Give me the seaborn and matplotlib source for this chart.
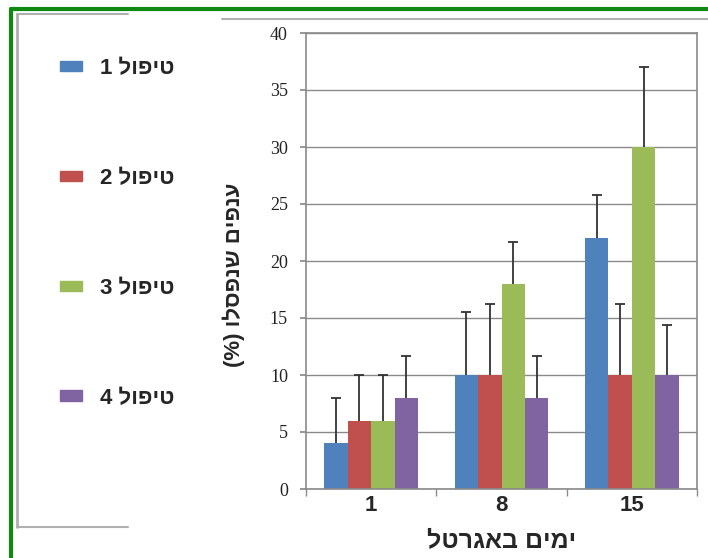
import matplotlib
matplotlib.use("Agg")
import matplotlib.pyplot as plt
import seaborn as sns
import pandas as pd
import numpy as np
from matplotlib.lines import Line2D
from matplotlib.patches import Rectangle

# ---- data ----
days = ["1", "8", "15"]
treatments = ["טיפול 1", "טיפול 2", "טיפול 3", "טיפול 4"]
t1 = [4, 10, 22]
t2 = [6, 10, 10]
t3 = [6, 18, 30]
t4 = [8, 8, 10]
t1_err = [4, 5.5, 3.8]
t2_err = [4, 6.2, 6.2]
t3_err = [4, 3.7, 7.0]
t4_err = [3.7, 3.7, 4.4]
colors = ["#4F81BD", "#C0504D", "#9BBB59", "#8064A2"]

values = [t1, t2, t3, t4]
errors = [t1_err, t2_err, t3_err, t4_err]

def vis(s):
    # reverse logical Hebrew string into visual order, mirroring brackets
    mirror = {"(": ")", ")": "("}
    return "".join(mirror.get(c, c) for c in s[::-1])

rows = []
for tr, vals, errs in zip(treatments, values, errors):
    for d, v, e in zip(days, vals, errs):
        rows.append({"day": d, "treatment": tr, "value": v, "err": e})
df = pd.DataFrame(rows)

sns.set_theme(style="white")
plt.rcParams["font.family"] = ["Liberation Sans", "DejaVu Sans"]

W, H = 708, 558
fig = plt.figure(figsize=(W / 100, H / 100), dpi=100)
ax = fig.add_axes([306 / W, 1 - 489 / H, (697 - 306) / W, (489 - 33) / H])

sns.barplot(data=df, x="day", y="value", hue="treatment", order=days,
            hue_order=treatments, palette=colors, width=0.72, gap=0,
            errorbar=None, linewidth=0, saturation=1, ax=ax, legend=True)

# error bars (upper only) from bar patches
for cont, errs in zip(ax.containers, errors):
    xs = [b.get_x() + b.get_width() / 2 for b in cont]
    ys = [b.get_height() for b in cont]
    eb = ax.errorbar(xs, ys, yerr=[np.zeros(len(errs)), errs], fmt="none",
                     ecolor="#333333", elinewidth=1.3, capsize=3.5, capthick=1.3,
                     zorder=3)
    caps = eb[1]
    if len(caps) == 2:
        caps[0].set_visible(False)
ax.get_legend().remove()

ax.set_ylim(0, 40)
ax.set_yticks(np.arange(0, 41, 5))
ax.set_xlim(-0.5, 2.5)
ax.yaxis.grid(True, color="#8a8a8a", linewidth=1.0)
ax.set_axisbelow(True)
for s in ["left", "top", "right", "bottom"]:
    ax.spines[s].set_visible(True)
    ax.spines[s].set_color("#8a8a8a")
    ax.spines[s].set_linewidth(1.2)

ax.tick_params(axis="y", which="major", left=True, length=4, color="#8a8a8a",
               pad=9, labelsize=13, labelcolor="#222222")
for lab in ax.get_yticklabels():
    lab.set_family(["Liberation Serif", "DejaVu Serif"])
ax.set_xticks([0, 1, 2])
ax.set_xticklabels(days, fontsize=16, fontweight="bold")
ax.set_xticks([-0.5, 0.5, 1.5, 2.5], minor=True)
ax.tick_params(axis="x", which="major", length=0, pad=4)
ax.tick_params(axis="x", which="minor", bottom=True, length=5, color="#8a8a8a")

ax.set_xlabel(vis("ימים באגרטל"), fontsize=18, fontweight="bold", labelpad=9)
ax.set_ylabel(vis("ענפים שנפסלו (%)"), fontsize=16, fontweight="bold")
ax.yaxis.set_label_coords(-0.155, 0.47)

# legend on left
leg_handles = [Rectangle((0, 0), 1, 1, color=c) for c in colors]
leg_labels = [t.split(" ")[1] + " " + vis(t.split(" ")[0]) for t in treatments]
leg = fig.legend(leg_handles, leg_labels, loc="upper left",
                 bbox_to_anchor=(60 / W, 1 - 58 / H), frameon=False,
                 prop={"family": ["Liberation Sans", "DejaVu Sans"], "weight": "bold", "size": 16},
                 handlelength=1.0, handleheight=0.35, handletextpad=0.8,
                 labelspacing=4.0, borderpad=0, borderaxespad=0)

# decorative frame lines
gray = "#b0b0b0"
fig.add_artist(Line2D([17 / W, 17 / W], [1 - 14 / H, 1 - 527 / H], color=gray, lw=2))
fig.add_artist(Line2D([17 / W, 128 / W], [1 - 14 / H, 1 - 14 / H], color=gray, lw=1.5))
fig.add_artist(Line2D([17 / W, 128 / W], [1 - 527 / H, 1 - 527 / H], color=gray, lw=1.5))
fig.add_artist(Line2D([222 / W, 1.0], [1 - 19 / H, 1 - 19 / H], color=gray, lw=1.5))
# green border
green = "#118811"
fig.add_artist(Line2D([11 / W, 1.0], [1 - 9 / H, 1 - 9 / H], color=green, lw=3))
fig.add_artist(Line2D([11 / W, 11 / W], [1 - 9 / H, 0], color=green, lw=3))

fig.savefig("out.png", dpi=100)
